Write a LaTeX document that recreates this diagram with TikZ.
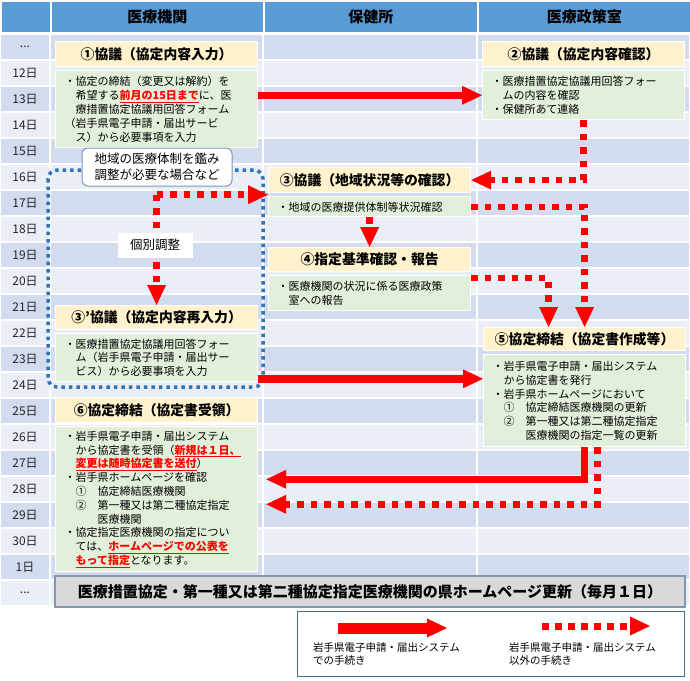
\documentclass[tikz,border=0pt]{standalone}
\usepackage{fontspec}
\setmainfont{Noto Sans CJK JP}
\usepackage{tikz}
\usetikzlibrary{positioning,arrows.meta}
\definecolor{headblue}{HTML}{5B9BD5}
\definecolor{row0}{HTML}{D2DCEE}
\definecolor{row1}{HTML}{E9EEF7}
\definecolor{titlecream}{HTML}{FFF2CC}
\definecolor{bodygreen}{HTML}{E2EFDA}
\definecolor{arrowred}{HTML}{FF0000}
\definecolor{frameblue}{HTML}{2E75B6}
\definecolor{noteedge}{HTML}{7F98B8}
\definecolor{bannergrey}{HTML}{D9D9D9}
\definecolor{banneredge}{HTML}{8497B0}
\definecolor{legendblue}{HTML}{41719C}
\definecolor{datetext}{HTML}{262626}
\newcommand{\redul}[1]{\textcolor{arrowred}{\underline{\bfseries #1}}}

\begin{document}
\begin{tikzpicture}[x=1pt, y=-1pt,
        headcell/.style={anchor=north west, minimum height=32pt, inner sep=0pt, fill=headblue, draw=white, line width=1.5pt, font=\fontsize{15}{18}\selectfont\bfseries},
        datelabel/.style={font=\fontsize{12}{14}\selectfont, text=datetext},
        titlebox/.style={anchor=north west, minimum width=202pt, inner sep=0pt, fill=titlecream, draw=white, line width=1.2pt, font=\fontsize{13.8}{16}\selectfont\bfseries},
        bodybox/.style={text width=184pt, inner xsep=9pt, inner ysep=2pt, align=left, fill=bodygreen, draw=white, line width=1.2pt, font=\fontsize{11}{13.8}\selectfont},
        solidarrow/.style={draw=arrowred, line width=7.5pt, -{Triangle[length=20pt,width=19pt,line width=0pt]}},
        dotarrow/.style={draw=arrowred, line width=6.5pt, dash pattern=on 6.5pt off 7pt, -{Triangle[length=20pt,width=19pt,line width=0pt]}},
        bluedots/.style={draw=frameblue, line width=3.5pt, dash pattern=on 3.5pt off 4pt, rounded corners=9pt},
        notebox/.style={fill=white, draw=noteedge, line width=1pt, rounded corners=6pt, minimum width=150pt, minimum height=38pt, align=center, font=\fontsize{12.5}{16}\selectfont},
        adjustbox/.style={fill=white, minimum width=75pt, minimum height=25pt, font=\fontsize{12.5}{15}\selectfont},
        banner/.style={fill=bannergrey, draw=banneredge, line width=1.5pt, minimum width=630pt, minimum height=31pt, font=\fontsize{15}{18}\selectfont\bfseries},
        legendtext/.style={anchor=north west, inner sep=0pt, align=left, font=\fontsize{10.5}{13}\selectfont},
]
        \fill[white] (0,0) rectangle (690,680);
        \useasboundingbox (0,0) rectangle (690,680);

        % header and day rows
        \foreach \xa/\w/\txt [count=\i] in {0/50/{},50/213/医療機関,263/214/保健所,477/213/医療政策室}
            \node[headcell, minimum width=\w pt] (head\i) at (\xa,0) {\txt};
        \foreach \r in {0,...,21} {
            \pgfmathtruncatemacro{\c}{mod(\r,2)}
            \foreach \xa/\w in {0/50,50/213,263/214,477/213}
                \draw[white, line width=1.5pt, fill=row\c] (\xa,{34+26*\r}) rectangle ++(\w,26);
        }
        \node[datelabel] (datetop) at (25,47) {...};
        \foreach \d in {12,...,30}
            \node[datelabel] (date\d) at (25,{47+26*(\d-11)}) {{\d}日};
        \node[datelabel] (datenext) at (25,567) {1日};
        \node[datelabel] (dateend) at (25,593) {...};

        \draw[bluedots] (48,170) rectangle (263,387);

        % steps
        \node[titlebox, minimum height=25pt] (titleone) at (55,41) {①協議（協定内容入力）};
        \node[bodybox, minimum height=77pt, below=3pt of titleone] (bodyone) {・協定の締結（変更又は解約）を\\　希望する\redul{前月の15日まで}に、医\\　療措置協定協議用回答フォーム\\（岩手県電子申請・届出サービ\\　ス）から必要事項を入力};
        \node[titlebox, minimum height=25pt] (titletwo) at (482,41) {②協議（協定内容確認）};
        \node[bodybox, minimum height=49pt, below=3pt of titletwo] (bodytwo) {・医療措置協定協議用回答フォー\\　ムの内容を確認\\・保健所あて連絡};
        \node[titlebox, minimum height=25pt] (titlethree) at (268,167) {③協議（地域状況等の確認）};
        \node[bodybox, minimum height=20pt, below=3pt of titlethree] (bodythree) {・地域の医療提供体制等状況確認};
        \node[titlebox, minimum height=24pt] (titlefour) at (268,247) {④指定基準確認・報告};
        \node[bodybox, minimum height=35pt, below=3pt of titlefour] (bodyfour) {・医療機関の状況に係る医療政策\\　室への報告};
        \node[titlebox, minimum height=24pt] (titleredo) at (55,305) {③’協議（協定内容再入力）};
        \node[bodybox, minimum height=48pt, below=3pt of titleredo] (bodyredo) {・医療措置協定協議用回答フォー\\　ム（岩手県電子申請・届出サー\\　ビス）から必要事項を入力};
        \node[titlebox, minimum height=23pt] (titlefive) at (483,327) {⑤協定締結（協定書作成等）};
        \node[bodybox, minimum height=92pt, below=3pt of titlefive] (bodyfive) {・岩手県電子申請・届出システム\\　から協定書を発行\\・岩手県ホームページにおいて\\　①　協定締結医療機関の更新\\　②　第一種又は第二種協定指定\\　　　医療機関の指定一覧の更新};
        \node[titlebox, minimum height=25pt] (titlesix) at (55,397) {⑥協定締結（協定書受領）};
        \node[bodybox, minimum height=145pt, below=3pt of titlesix] (bodysix) {・岩手県電子申請・届出システム\\　から協定書を受領（\redul{新規は１日、}\\　\redul{変更は随時協定書を送付}）\\・岩手県ホームページを確認\\　①　協定締結医療機関\\　②　第一種又は第二種協定指定\\　　　医療機関\\・協定指定医療機関の指定につい\\　ては、\redul{ホームページでの公表を}\\　\redul{もって指定}となります。};

        % flows
        \coordinate (threemid) at ([yshift=-1.5pt]titlethree.south west);
        \coordinate (split) at (titleredo.north |- threemid);
        \coordinate (redoout) at ([yshift=-21pt]bodyredo.east);
        \coordinate (sixin) at ([xshift=8pt,yshift=20pt]bodysix.east);
        \coordinate (fiveout) at ([xshift=13pt]bodyfive.south);
        \coordinate (sixdot) at ([xshift=8pt,yshift=-5pt]bodysix.east);
        \coordinate (fourout) at ([yshift=-3pt]bodyfour.north east);
        \coordinate (fivein) at ([xshift=-36pt]titlefive.north);

        \draw[solidarrow] (bodyone.east |- bodytwo.west) -- (bodytwo.west);
        \draw[dotarrow] (bodytwo.south) |- (titlethree.east);
        \draw[dotarrow] (bodythree.east) -| (titlefive.north);
        \draw[dotarrow] (bodythree.south) -- (titlefour.north);
        \draw[dotarrow] (fourout) -| (fivein);
        \draw[dotarrow] (split) -- (threemid);
        \draw[dotarrow] (split) -- (titleredo.north);
        \draw[solidarrow] (redoout) -- (redoout -| bodyfive.west);
        \draw[solidarrow] (bodyfive.south) |- (sixin);
        \draw[dotarrow] (fiveout) |- (sixdot);

        \node[notebox] (note) at (157,167) {地域の医療体制を鑑み\\調整が必要な場合など};
        \node[adjustbox] (adjust) at (155,245) {個別調整};

        \node[banner] (banner) at (370,591.5) {医療措置協定・第一種又は第二種協定指定医療機関の県ホームページ更新（毎月１日）};

        % legend
        \node[draw=legendblue, line width=1.2pt, minimum width=387pt, minimum height=65pt, anchor=north west] (legend) at (297,611) {};
        \coordinate (solidfrom) at (338,628);
        \coordinate (solidto) at (447,628);
        \coordinate (dotfrom) at (542,626);
        \coordinate (dotto) at (650,626);
        \draw[solidarrow, line width=11pt] (solidfrom) -- (solidto);
        \draw[dotarrow, line width=7pt, dash pattern=on 7pt off 6pt] (dotfrom) -- (dotto);
        \node[legendtext] (legendone) at (313,642) {岩手県電子申請・届出システム\\での手続き};
        \node[legendtext] (legendtwo) at (509,642) {岩手県電子申請・届出システム\\以外の手続き};
\end{tikzpicture}
\end{document}
